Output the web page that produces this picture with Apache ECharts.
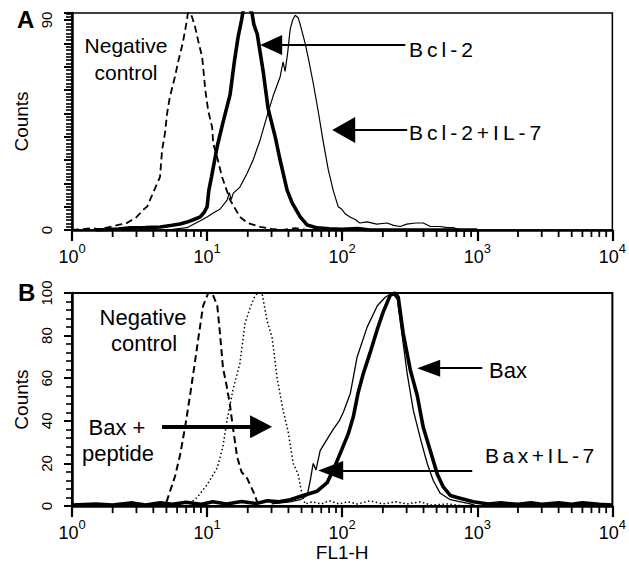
<!DOCTYPE html>
<html><head><meta charset="utf-8">
<script src="https://cdn.jsdelivr.net/npm/echarts@6/dist/echarts.min.js"></script>
<style>html,body{margin:0;padding:0;background:#fff}#c{width:629px;height:563px}</style>
</head><body><div id="c"></div>
<script>
// ---- tick labels ----
const xTickValues = [1, 10, 100, 1000, 10000];
const minorMultiples = [2, 3, 4, 5, 6, 7, 8, 9];
const decades = [1, 10, 100, 1000];
const yTicksA = [0, 90];
const yTicksB = [0, 20, 40, 60, 80, 100];

// ---- Panel A (FL1-H, counts) ----
const negControlA = [[1,0],[1.15,0.3],[1.4,0.8],[1.6,0.3],[1.91,1.3],[2.2,2.2],[2.55,3],[3.0,5.5],[3.36,8.6],[3.6,10],[3.98,15.9],[4.48,22.7],[4.64,34],[4.88,41.6],[5.06,50],[5.3,57],[5.8,66],[6.1,72],[6.6,80],[7.1,90],[7.2,93],[7.5,93],[7.74,91.3],[8.15,87],[8.6,81],[9.2,74],[9.7,60],[10.2,51],[10.9,44],[11.1,37],[11.9,31],[12.9,22.7],[14.8,12.9],[17.5,5.6],[20,3],[24.7,1.3],[30,0.5],[36.5,0],[45,0.8],[55,0],[70,0.5],[90,0]];
const bcl2A = [[1.5,0],[2.2,0.4],[2.7,0.9],[3.5,1],[4.5,1.3],[5.5,2],[6.3,2.6],[7.1,3.4],[8.0,4.5],[8.9,5.6],[9.5,7.5],[10,9.9],[10.3,17],[10.8,23],[11.9,36],[13.1,46],[14.8,58],[15.9,72],[17.0,83],[18.0,90],[18.6,95],[20.5,95],[21.5,93],[22.2,88],[23.5,84],[26,68],[28.3,52],[31.9,40],[34.7,30],[39.1,17.1],[42.6,11.6],[48.9,5.6],[55.1,2.1],[65.3,0.9],[80,0.5],[100,0.3],[130,0.6],[160,0],[1000,0]];
const bcl2IL7A = [[5,0],[7.1,1],[8.9,4],[10,5.6],[11.1,7.3],[12.5,9],[14.1,12.9],[14.6,16],[15.1,13],[15.6,15.7],[17.5,18.4],[19.8,24.3],[21.9,30],[24.7,38.6],[27.8,48.9],[30.8,57.4],[34.7,65.6],[36.5,72],[37.8,68],[39.5,76],[41.2,86],[43,90],[44.9,92],[47.2,91],[48.9,88],[53.2,80],[56,74],[61,63],[66.4,51],[72.3,38],[78.8,26],[85.8,17],[93.4,10],[99,9],[105,7],[115,5.5],[125,4.5],[135,3],[153,3.5],[180,2.5],[215,3],[240,2],[269,1.5],[300,2.5],[350,3],[398,3],[450,1.5],[532,1.5],[600,1],[664,1],[748,0],[1000,0]];

// ---- Panel B ----
const negControlB = [[3,0],[4.89,0],[5.32,7],[5.79,14],[6.31,24],[6.87,37],[7.48,52],[8.15,68],[8.58,78],[9.34,94],[10.2,100],[10.9,100],[11.9,94],[12.5,80],[13.1,65],[14.1,55],[14.8,47],[15.6,36],[16.7,23],[18,16],[19.8,13],[21.9,7],[23.5,2],[25.5,0]];
const baxPeptideB = [[7,0],[8.43,4],[10,10],[11.9,18],[13.1,28],[14.1,41],[15.6,55],[17.5,67],[19.1,86],[20.8,93],[22.7,99],[24,100],[25.5,100],[27.8,87],[30.3,79],[33,60],[36.5,45],[39.8,35],[43.4,20],[47.2,15],[50.6,5],[53.2,1],[60,2],[70,1],[80,2.5],[95,1],[110,2],[130,1],[160,2.5],[200,1],[250,2],[300,1],[380,2],[450,0.5],[600,1],[800,0]];
const baxB = [[1,0.5],[1.5,1],[2,0.5],[2.8,1.5],[3.5,0.5],[4.5,1.5],[5.5,0.8],[7,1.8],[9,0.8],[11,2],[14,1],[18,2.2],[23,1.2],[28,2.5],[34,2],[41.2,3],[51.4,5],[65.3,7],[77.4,11],[88.7,19],[100,27],[111,34],[121,42],[131,53],[143,62],[161,72],[182,83],[201,91],[227,99],[247,100],[260,98],[283,81],[319,64],[359,52],[398,37],[449,26],[506,15],[560,9],[631,5],[711,4],[934,2],[1200,1],[1500,1.5],[2000,0.8],[2500,1.5],[3000,0.8],[4000,1.5],[5000,0.8],[6000,1.5],[8000,0.8],[10000,0.5]];
const baxIL7B = [[30,1],[41,2],[48.9,3],[55.1,5],[58,12],[61,20],[64,17],[68.7,26],[75,30],[85.8,36],[95,40],[102,44],[115,53],[129,70],[153,84],[182,94],[208,98],[235,100],[256,97],[278,80],[303,62],[336,45],[378,32],[426,20],[472,12],[532,6],[631,3],[887,1],[1000,0]];

// ---- arrows: from tail to head (data units) ----
const arrowsA = [
  {from:[293,79.3], to:[29.8,79.3], head:[20,22], width:2},
  {from:[303,42.9], to:[102.6,42.9], head:[26,23], width:2}
];
const arrowsB = [
  {from:[1089,64.7], to:[437,64.7], head:[17,23], width:2},
  {from:[918,16.7], to:[82.2,16.7], head:[19,25], width:2},
  {from:[4.64,37.2], to:[25.1,37.2], head:[23,22], width:4}
];

const F = 'Liberation Sans, Arial, Helvetica, sans-serif';
const minorTicks = [];
decades.forEach(d => minorMultiples.forEach(m => minorTicks.push(d * m)));

function xAxisFor(gi, name) {
  return {
    type: 'log', logBase: 10, min: 1, max: 10000, gridIndex: gi,
    name: name || '', nameLocation: 'middle', nameGap: 35,
    nameTextStyle: {fontFamily: F, fontSize: 19, color: '#000'},
    axisLine: {show: true, lineStyle: {color: '#000', width: 2.5}},
    axisTick: {show: true, length: 11, lineStyle: {color: '#000', width: 2.2}},
    splitLine: {show: false},
    axisLabel: {
      margin: 12,
      formatter: v => xTickValues.indexOf(v) >= 0 ? '{b|10}{s|' + Math.round(Math.log10(v)) + '}' : '',
      rich: {
        b: {fontSize: 18, lineHeight: 30, fontFamily: F, color: '#000'},
        s: {fontSize: 13, verticalAlign: 'top', fontFamily: F, color: '#000'}
      }
    }
  };
}
function yAxisFor(gi, max, interval, ticks, minorSplit) {
  return {
    type: 'value', gridIndex: gi, min: 0, max: max, interval: interval,
    name: 'Counts', nameLocation: 'middle', nameGap: 34,
    nameTextStyle: {fontFamily: F, fontSize: 19, color: '#000'},
    axisLine: {show: true, lineStyle: {color: '#000', width: 2.5}},
    axisTick: {show: true, length: 8, lineStyle: {color: '#000', width: 2}},
    minorTick: {show: true, splitNumber: minorSplit, length: 6, lineStyle: {color: '#000', width: 1.6}},
    splitLine: {show: false},
    axisLabel: {
      rotate: 90, margin: 18, fontFamily: F, fontSize: 15, color: '#000',
      formatter: v => ticks.indexOf(v) >= 0 ? String(v) : ''
    }
  };
}
function lineSeries(data, xi, style) {
  return {
    type: 'line', xAxisIndex: xi, yAxisIndex: xi, data: data,
    showSymbol: false, symbol: 'none', smooth: false, clip: true,
    lineStyle: Object.assign({color: '#000'}, style), z: 3
  };
}
function tickSeries(xi) {
  return {
    type: 'custom', xAxisIndex: xi, yAxisIndex: xi, clip: false, silent: true, z: 5,
    data: minorTicks.map(v => [v, 0]),
    renderItem: (params, api) => {
      const p = api.coord([api.value(0), 0]);
      return {type: 'line', shape: {x1: p[0], y1: p[1], x2: p[0], y2: p[1] + 7},
              style: {stroke: '#000', lineWidth: 1.8}};
    }
  };
}
function markLinesFor(arrows) {
  return {
    silent: true, animation: false, symbol: ['none', 'triangle'],
    label: {show: false},
    emphasis: {disabled: true},
    data: arrows.map(a => [
      {coord: a.from, symbol: 'none', lineStyle: {color: '#000', width: a.width, type: 'solid'}},
      {coord: a.to, symbol: 'triangle', symbolSize: a.head}
    ]),
    lineStyle: {color: '#000', type: 'solid', width: 2}
  };
}

const sA = lineSeries(bcl2IL7A, 0, {width: 1.2});
sA.markLine = markLinesFor(arrowsA);
const sB = lineSeries(baxIL7B, 1, {width: 1.3});
sB.markLine = markLinesFor(arrowsB);

const txt = (x, y, text, size, extra) => ({
  type: 'text', x: x, y: y, silent: true, z: 100,
  style: Object.assign({text: text, fontSize: size, fontFamily: F, fill: '#000', align: 'left', verticalAlign: 'middle'}, extra || {})
});

const option = {
  animation: false,
  backgroundColor: '#fff',
  grid: [
    {left: 72, top: 13, width: 541, height: 217, show: true, borderColor: '#000', borderWidth: 1.5},
    {left: 72, top: 293, width: 541, height: 215, show: true, borderColor: '#000', borderWidth: 2}
  ],
  xAxis: [xAxisFor(0), xAxisFor(1, 'FL1-H')],
  yAxis: [yAxisFor(0, 93, 10, yTicksA, 7), yAxisFor(1, 100, 20, yTicksB, 5)],
  series: [
    lineSeries(negControlA, 0, {width: 1.8, type: [7, 4]}),
    lineSeries(bcl2A, 0, {width: 3.6}),
    sA,
    lineSeries(negControlB, 1, {width: 2, type: [7, 4]}),
    lineSeries(baxPeptideB, 1, {width: 1.5, type: [1.5, 2.5]}),
    lineSeries(baxB, 1, {width: 3.6}),
    sB,
    tickSeries(0), tickSeries(1)
  ],
  graphic: [
    txt(17, 19, 'A', 24, {fontWeight: 'bold'}),
    txt(18, 292, 'B', 24, {fontWeight: 'bold'}),
    txt(126, 45, 'Negative', 21, {align: 'center'}),
    txt(126, 72, 'control', 21, {align: 'center'}),
    txt(409, 49, 'Bcl-2', 21),
    txt(409, 132, 'Bcl-2+IL-7', 21),
    txt(143, 317, 'Negative', 22, {align: 'center'}),
    txt(144, 343, 'control', 22, {align: 'center'}),
    txt(117, 427, 'Bax +', 22, {align: 'center'}),
    txt(118, 453, 'peptide', 22, {align: 'center'}),
    txt(489, 370, 'Bax', 22),
    txt(485, 455, 'Bax+IL-7', 21)
  ]
};

const chart = echarts.init(document.getElementById('c'), null, {renderer: 'svg'});
chart.setOption(option);
function applySpacing() {
  const map = {'Bcl-2': '4px', 'Bcl-2+IL-7': '4px', 'Bax+IL-7': '3.5px'};
  document.querySelectorAll('#c text').forEach(t => {
    const s = map[t.textContent];
    if (s) { t.setAttribute('letter-spacing', s); t.style.letterSpacing = s; }
  });
}
applySpacing();
chart.on('finished', applySpacing);
setTimeout(applySpacing, 50);
</script>
</body></html>
